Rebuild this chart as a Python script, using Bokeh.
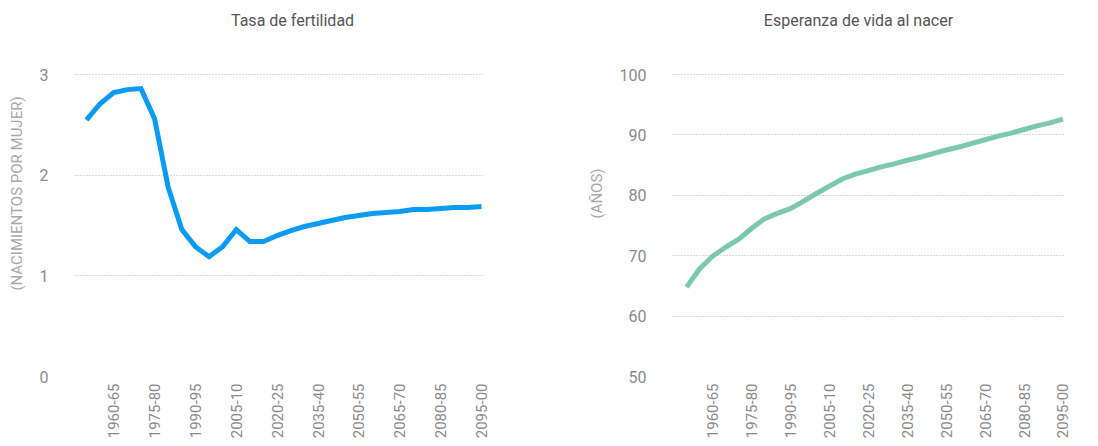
from bokeh.plotting import figure
from bokeh.layouts import row
from bokeh.models import FixedTicker, Range1d, Label
from bokeh.embed import file_html
from bokeh.resources import INLINE

periods = ["1950-55", "1955-60", "1960-65", "1965-70", "1970-75", "1975-80",
           "1980-85", "1985-90", "1990-95", "1995-00", "2000-05", "2005-10",
           "2010-15", "2015-20", "2020-25", "2025-30", "2030-35", "2035-40",
           "2040-45", "2045-50", "2050-55", "2055-60", "2060-65", "2065-70",
           "2070-75", "2075-80", "2080-85", "2085-90", "2090-95", "2095-00"]

fertility = [2.55, 2.71, 2.82, 2.85, 2.86, 2.56, 1.88, 1.46, 1.29, 1.19,
             1.29, 1.46, 1.34, 1.34, 1.40, 1.45, 1.49, 1.52, 1.55, 1.58,
             1.60, 1.62, 1.63, 1.64, 1.66, 1.66, 1.67, 1.68, 1.68, 1.69]

life_exp = [64.8, 67.8, 69.9, 71.4, 72.7, 74.5, 76.1, 77.0, 77.8, 79.0,
            80.3, 81.5, 82.7, 83.5, 84.1, 84.7, 85.2, 85.8, 86.3, 86.9,
            87.5, 88.0, 88.6, 89.2, 89.8, 90.3, 90.9, 91.5, 92.0, 92.6]

shown_ticks = [2, 5, 8, 11, 14, 17, 20, 23, 26, 29]

FONT = "Roboto"
TICK_COLOR = "#8a8a8a"
GRID_COLOR = "#b4b4b4"


def make_fig(frame_w, border_left, border_right, xr, yr, yticks, ytitle,
             title, title_pos, values, color):
    p = figure(frame_width=frame_w, frame_height=366, output_backend="svg",
               toolbar_location=None, x_range=Range1d(*xr), y_range=Range1d(*yr),
               min_border_left=border_left, min_border_right=border_right,
               min_border_top=10, min_border_bottom=60)
    x = list(range(len(periods)))
    p.line(x, values, line_color=color, line_width=5, line_join="miter")
    p.outline_line_color = None
    p.background_fill_color = "white"
    p.border_fill_color = "white"

    p.add_layout(Label(x=title_pos[0], y=title_pos[1], text=title,
                       text_font=FONT, text_font_size="16px",
                       text_color="#555555", text_align="center",
                       text_baseline="middle"))

    p.xgrid.grid_line_color = None
    p.ygrid.grid_line_color = GRID_COLOR
    p.ygrid.grid_line_dash = "1 2"
    p.ygrid.grid_line_width = 1

    p.xaxis.ticker = FixedTicker(ticks=shown_ticks)
    p.xaxis.major_label_overrides = {i: periods[i] for i in shown_ticks}
    p.xaxis.major_label_orientation = 1.5707963
    p.xaxis.axis_line_color = None
    p.xaxis.major_tick_line_color = None
    p.xaxis.minor_tick_line_color = None
    p.xaxis.major_tick_out = 0
    p.xaxis.major_tick_in = 0
    p.xaxis.major_label_standoff = 7
    p.xaxis.major_label_text_font = FONT
    p.xaxis.major_label_text_font_size = "15px"
    p.xaxis.major_label_text_color = TICK_COLOR

    p.yaxis.ticker = FixedTicker(ticks=yticks)
    p.yaxis.axis_line_color = None
    p.yaxis.major_tick_line_color = None
    p.yaxis.minor_tick_line_color = None
    p.yaxis.major_tick_out = 0
    p.yaxis.major_tick_in = 0
    p.yaxis.major_label_standoff = 26
    p.yaxis.major_label_text_font = FONT
    p.yaxis.major_label_text_font_size = "16px"
    p.yaxis.major_label_text_color = TICK_COLOR
    p.yaxis.axis_label = ytitle
    p.yaxis.axis_label_text_font = FONT
    p.yaxis.axis_label_text_font_size = "15px"
    p.yaxis.axis_label_text_font_style = "normal"
    p.yaxis.axis_label_text_color = "#a8a8a8"
    p.yaxis.axis_label_standoff = 11
    return p


p1 = make_fig(409, 74, 67, (-0.88, 29.15), (0, 3.636), [0, 1, 2, 3],
              "(NACIMIENTOS POR MUJER)", "Tasa de fertilidad", (15.13, 3.536),
              fertility, "#0a9bf5")
p2 = make_fig(392, 122, 25, (-1.08, 29.12), (50, 110.6), [50, 60, 70, 80, 90, 100],
              "(AÑOS)", "Esperanza de vida al nacer", (13.25, 108.94),
              life_exp, "#7cc8af")

layout = row(p1, p2)
open("out.html", "w").write(file_html(layout, INLINE))
